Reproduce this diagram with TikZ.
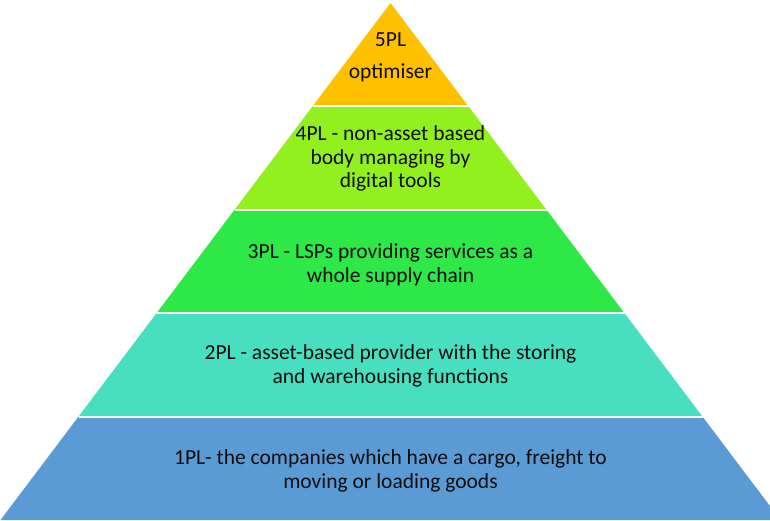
\documentclass[tikz,border=0pt]{standalone}
\usepackage{fontspec}
\setmainfont{Carlito}
\usetikzlibrary{calc}
\definecolor{tierfive}{RGB}{255,192,0}
\definecolor{tierfour}{RGB}{146,240,30}
\definecolor{tierthree}{RGB}{46,232,72}
\definecolor{tiertwo}{RGB}{72,222,192}
\definecolor{tierone}{RGB}{91,155,213}
\begin{document}
\begin{tikzpicture}[
x=1pt, y=-1pt,
layerbox/.style={
    fill=#1,
    draw=none,
},
gapline/.style={
    draw=white,
    line width=2pt,
},
tiertext/.style={
    align=center,
    text=black!95,
    inner sep=0pt, % No inner spacing
    font=\fontsize{21.5}{23.5}\selectfont,
},
]
\useasboundingbox (0,0) rectangle (770,521);
\clip (0,0) rectangle (770,521);

\coordinate (apex) at (390.5,3);
\coordinate (baseL) at (0.5,520);
\coordinate (baseR) at (780.5,520);

\coordinate (L4) at ($(apex)!0.2!(baseL)$);
\coordinate (R4) at ($(apex)!0.2!(baseR)$);
\coordinate (L3) at ($(apex)!0.4!(baseL)$);
\coordinate (R3) at ($(apex)!0.4!(baseR)$);
\coordinate (L2) at ($(apex)!0.6!(baseL)$);
\coordinate (R2) at ($(apex)!0.6!(baseR)$);
\coordinate (L1) at ($(apex)!0.8!(baseL)$);
\coordinate (R1) at ($(apex)!0.8!(baseR)$);

\fill[layerbox=tierfive] (apex) -- (R4) -- (L4) -- cycle;
\fill[layerbox=tierfour] (L4) -- (R4) -- (R3) -- (L3) -- cycle;
\fill[layerbox=tierthree] (L3) -- (R3) -- (R2) -- (L2) -- cycle;
\fill[layerbox=tiertwo] (L2) -- (R2) -- (R1) -- (L1) -- cycle;
\fill[layerbox=tierone] (L1) -- (R1) -- (baseR) -- (baseL) -- cycle;

\draw[gapline] (L4) -- (R4);
\draw[gapline] (L3) -- (R3);
\draw[gapline] (L2) -- (R2);
\draw[gapline] (L1) -- (R1);

\node[tiertext] (t5) at (390.5,57) {5PL\\[8.5pt]optimiser};
\node[tiertext] (t4) at (390.5,158.5) {4PL - non-asset based\\body managing by\\digital tools};
\node[tiertext] (t3) at (390.5,265) {3PL - LSPs providing services as a\\whole supply chain};
\node[tiertext] (t2) at (390.5,366) {2PL - asset-based provider with the storing\\and warehousing functions};
\node[tiertext] (t1) at (390.5,471) {1PL- the companies which have a cargo, freight to\\moving or loading goods};

\end{tikzpicture}
\end{document}
